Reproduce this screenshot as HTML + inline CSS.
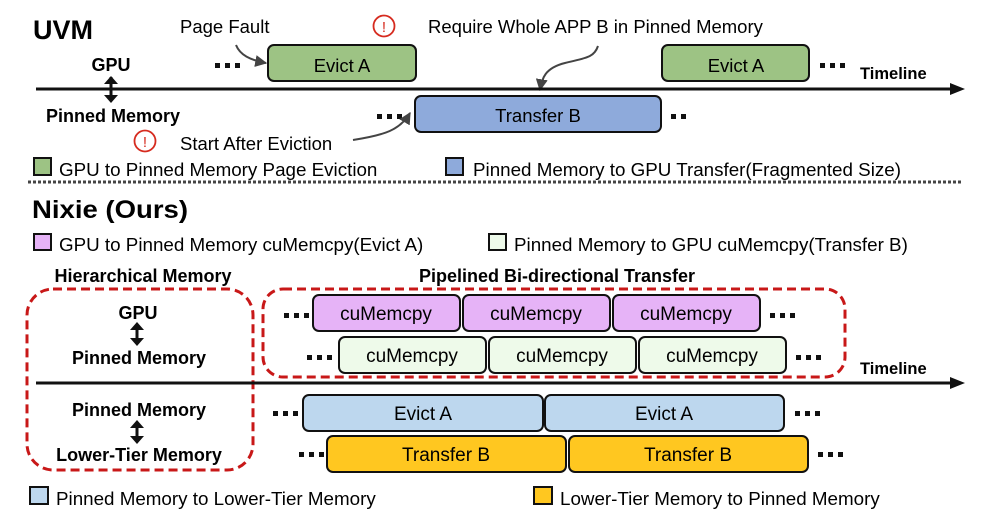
<!DOCTYPE html>
<html><head><meta charset="utf-8"><style>
html,body{margin:0;padding:0;background:#fff;}
svg{display:block;font-family:"Liberation Sans",Arial,sans-serif;}
.b{font-weight:bold}
</style></head><body>
<svg width="987" height="520" viewBox="0 0 987 520" xmlns="http://www.w3.org/2000/svg">
<defs>
<marker id="ah" viewBox="0 0 10 10" refX="9" refY="5" markerWidth="6" markerHeight="6" orient="auto"><path d="M0,0 L10,5 L0,10 z" fill="#444"/></marker>
</defs>
<!-- UVM -->
<text x="33" y="39" font-size="27" class="b">UVM</text>
<text x="180" y="33" font-size="18.5">Page Fault</text>
<circle cx="384" cy="26" r="10.5" fill="none" stroke="#d62b1f" stroke-width="1.8"/>
<text x="384" y="32" font-size="15" fill="#d62b1f" text-anchor="middle">!</text>
<text x="428" y="33" font-size="18.5">Require Whole APP B in Pinned Memory</text>
<path d="M236,45 C240,55 250,60 266,63" fill="none" stroke="#444" stroke-width="2" marker-end="url(#ah)"/>
<path d="M598,46 C594,58 585,58 565,63 C545,68 542,78 540,90" fill="none" stroke="#444" stroke-width="2" marker-end="url(#ah)"/>
<text x="111" y="71" font-size="18" class="b" text-anchor="middle">GPU</text>
<text x="113" y="122" font-size="18" class="b" text-anchor="middle">Pinned Memory</text>
<rect x="268" y="45" width="148" height="36" rx="6" fill="#9dc384" stroke="#111" stroke-width="2"/>
<text x="342" y="72" font-size="18.5" text-anchor="middle">Evict A</text>
<rect x="662" y="45" width="147" height="36" rx="6" fill="#9dc384" stroke="#111" stroke-width="2"/>
<text x="736" y="72" font-size="18.5" text-anchor="middle">Evict A</text>
<rect x="415" y="96" width="246" height="36" rx="6" fill="#8eaadb" stroke="#111" stroke-width="2"/>
<text x="538" y="122" font-size="18.5" text-anchor="middle">Transfer B</text>
<line x1="36" y1="89" x2="952" y2="89" stroke="#111" stroke-width="3"/>
<path d="M950,83 L965,89 L950,95 z" fill="#111"/>
<text x="860" y="79" font-size="16.5" class="b">Timeline</text>
<g fill="#111">
<rect x="215" y="63" width="5" height="5"/><rect x="225" y="63" width="5" height="5"/><rect x="235" y="63" width="5" height="5"/>
<rect x="820" y="63" width="5" height="5"/><rect x="830" y="63" width="5" height="5"/><rect x="840" y="63" width="5" height="5"/>
<rect x="377" y="114" width="5" height="5"/><rect x="387" y="114" width="5" height="5"/><rect x="397" y="114" width="5" height="5"/>
<rect x="671" y="114" width="5" height="5"/><rect x="681" y="114" width="5" height="5"/>
</g>
<path d="M111,77 L111,101" stroke="#111" stroke-width="3"/>
<path d="M104,84 L111,76 L118,84 z M104,95 L111,103 L118,95 z" fill="#111"/>
<circle cx="145" cy="141" r="10.5" fill="none" stroke="#d62b1f" stroke-width="1.8"/>
<text x="145" y="147" font-size="15" fill="#d62b1f" text-anchor="middle">!</text>
<text x="180" y="150" font-size="18.5">Start After Eviction</text>
<path d="M353,140 C385,135 400,130 410,113" fill="none" stroke="#444" stroke-width="2" marker-end="url(#ah)"/>
<rect x="34" y="158" width="17" height="17" fill="#9dc384" stroke="#111" stroke-width="2"/>
<text x="59" y="176" font-size="18.8">GPU to Pinned Memory Page Eviction</text>
<rect x="446" y="158" width="17" height="17" fill="#8eaadb" stroke="#111" stroke-width="2"/>
<text x="473" y="176" font-size="18.8">Pinned Memory to GPU Transfer(Fragmented Size)</text>
<line x1="28" y1="182" x2="963" y2="182" stroke="#444" stroke-width="3" stroke-dasharray="3,2"/>
<!-- Nixie -->
<text x="32" y="218" font-size="25" class="b" textLength="156" lengthAdjust="spacingAndGlyphs">Nixie (Ours)</text>
<rect x="34" y="234" width="17" height="16" fill="#e6b3f7" stroke="#111" stroke-width="2"/>
<text x="59" y="251" font-size="18.8">GPU to Pinned Memory cuMemcpy(Evict A)</text>
<rect x="489" y="234" width="17" height="16" fill="#eefaea" stroke="#111" stroke-width="2"/>
<text x="514" y="251" font-size="18.8">Pinned Memory to GPU cuMemcpy(Transfer B)</text>
<text x="143" y="282" font-size="18" class="b" text-anchor="middle">Hierarchical Memory</text>
<text x="557" y="282" font-size="18" class="b" text-anchor="middle">Pipelined Bi-directional Transfer</text>
<rect x="27" y="289" width="226" height="181" rx="26" fill="none" stroke="#c81818" stroke-width="3" stroke-dasharray="9,5"/>
<rect x="263" y="289" width="582" height="88" rx="20" fill="none" stroke="#c81818" stroke-width="3" stroke-dasharray="9,5"/>
<g font-size="19" text-anchor="middle">
<rect x="313" y="295" width="147" height="36" rx="6" fill="#e6b3f7" stroke="#111" stroke-width="2"/><text x="386" y="320">cuMemcpy</text>
<rect x="463" y="295" width="147" height="36" rx="6" fill="#e6b3f7" stroke="#111" stroke-width="2"/><text x="536" y="320">cuMemcpy</text>
<rect x="613" y="295" width="147" height="36" rx="6" fill="#e6b3f7" stroke="#111" stroke-width="2"/><text x="686" y="320">cuMemcpy</text>
<rect x="339" y="337" width="147" height="36" rx="6" fill="#eefaea" stroke="#111" stroke-width="2"/><text x="412" y="362">cuMemcpy</text>
<rect x="489" y="337" width="147" height="36" rx="6" fill="#eefaea" stroke="#111" stroke-width="2"/><text x="562" y="362">cuMemcpy</text>
<rect x="639" y="337" width="147" height="36" rx="6" fill="#eefaea" stroke="#111" stroke-width="2"/><text x="712" y="362">cuMemcpy</text>
<rect x="303" y="395" width="240" height="36" rx="6" fill="#bdd7ee" stroke="#111" stroke-width="2"/><text x="423" y="420">Evict A</text>
<rect x="545" y="395" width="239" height="36" rx="6" fill="#bdd7ee" stroke="#111" stroke-width="2"/><text x="664" y="420">Evict A</text>
<rect x="327" y="436" width="239" height="36" rx="6" fill="#ffc720" stroke="#111" stroke-width="2"/><text x="446" y="461">Transfer B</text>
<rect x="569" y="436" width="239" height="36" rx="6" fill="#ffc720" stroke="#111" stroke-width="2"/><text x="688" y="461">Transfer B</text>
</g>
<line x1="36" y1="383" x2="952" y2="383" stroke="#111" stroke-width="3"/>
<path d="M950,377 L965,383 L950,389 z" fill="#111"/>
<text x="860" y="374" font-size="16.5" class="b">Timeline</text>
<g fill="#111">
<rect x="284" y="313" width="5" height="5"/><rect x="294" y="313" width="5" height="5"/><rect x="304" y="313" width="5" height="5"/>
<rect x="770" y="313" width="5" height="5"/><rect x="780" y="313" width="5" height="5"/><rect x="790" y="313" width="5" height="5"/>
<rect x="307" y="355" width="5" height="5"/><rect x="317" y="355" width="5" height="5"/><rect x="327" y="355" width="5" height="5"/>
<rect x="796" y="355" width="5" height="5"/><rect x="806" y="355" width="5" height="5"/><rect x="816" y="355" width="5" height="5"/>
<rect x="273" y="411" width="5" height="5"/><rect x="283" y="411" width="5" height="5"/><rect x="293" y="411" width="5" height="5"/>
<rect x="795" y="411" width="5" height="5"/><rect x="805" y="411" width="5" height="5"/><rect x="815" y="411" width="5" height="5"/>
<rect x="299" y="452" width="5" height="5"/><rect x="309" y="452" width="5" height="5"/><rect x="319" y="452" width="5" height="5"/>
<rect x="818" y="452" width="5" height="5"/><rect x="828" y="452" width="5" height="5"/><rect x="838" y="452" width="5" height="5"/>
</g>
<g font-size="18" class="b" text-anchor="middle">
<text x="138" y="319">GPU</text>
<text x="139" y="364">Pinned Memory</text>
<text x="139" y="416">Pinned Memory</text>
<text x="139" y="461">Lower-Tier Memory</text>
</g>
<path d="M137,324 L137,344" stroke="#111" stroke-width="3"/>
<path d="M130,330 L137,322 L144,330 z M130,338 L137,346 L144,338 z" fill="#111"/>
<path d="M137,422 L137,442" stroke="#111" stroke-width="3"/>
<path d="M130,428 L137,420 L144,428 z M130,436 L137,444 L144,436 z" fill="#111"/>
<rect x="30" y="487" width="18" height="17" fill="#bdd7ee" stroke="#111" stroke-width="2"/>
<text x="56" y="505" font-size="18.8">Pinned Memory to Lower-Tier Memory</text>
<rect x="534" y="487" width="18" height="17" fill="#ffc720" stroke="#111" stroke-width="2"/>
<text x="560" y="505" font-size="18.8">Lower-Tier Memory to Pinned Memory</text>
</svg>
</body></html>
